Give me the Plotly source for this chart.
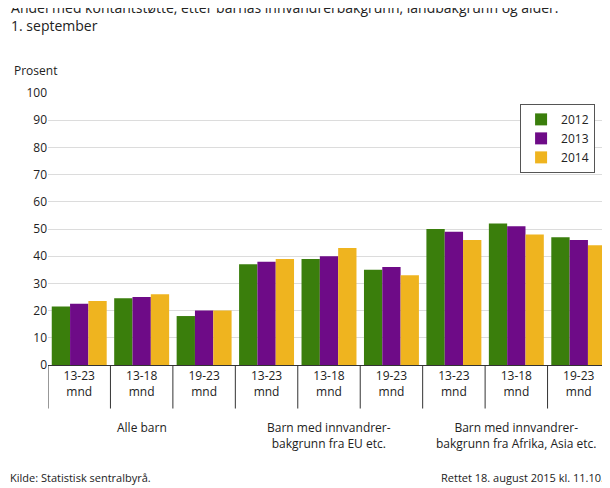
import plotly.graph_objects as go

years = ["2012", "2013", "2014"]
ages = ["13-23<br>mnd", "13-18<br>mnd", "19-23<br>mnd"] * 3
groups = ["Alle barn", "Barn med innvandrer-<br>bakgrunn fra EU etc.",
          "Barn med innvandrer-<br>bakgrunn fra Afrika, Asia etc."]
v2012 = [21.5, 24.5, 18, 37, 39, 35, 50, 52, 47]
v2013 = [22.5, 25, 20, 38, 40, 36, 49, 51, 46]
v2014 = [23.5, 26, 20, 39, 43, 33, 46, 48, 44]
colors = ["#3a7e0c", "#6e0b87", "#efb41f"]

x = list(range(9))
fig = go.Figure()
for name, vals, c in zip(years, [v2012, v2013, v2014], colors):
    fig.add_trace(go.Bar(x=x, y=vals, name=name, marker_color=c, marker_line_width=0))

# separators between categories
for i in range(10):
    fig.add_shape(type="line", xref="x", yref="paper", x0=i - 0.5, x1=i - 0.5,
                  y0=0, y1=-0.16, line=dict(color="#333", width=1))
for gi, g in enumerate(groups):
    fig.add_annotation(x=gi * 3 + 1, y=-0.19, xref="x", yref="paper", text=g,
                       showarrow=False, yanchor="top", font=dict(size=12, color="#222"))

fig.add_annotation(x=0, y=1.0, xref="paper", yref="paper", xshift=-36, yshift=12,
                   text="Prosent", showarrow=False, xanchor="left", yanchor="bottom",
                   font=dict(size=12))
fig.add_annotation(x=0, y=0, xref="paper", yref="paper", xshift=-40, yshift=-122,
                   text="Kilde: Statistisk sentralbyrå.", showarrow=False, xanchor="left",
                   font=dict(size=11))
fig.add_annotation(x=1, y=0, xref="paper", yref="paper", xshift=-4, yshift=-122,
                   text="Rettet 18. august 2015 kl. 11.10.", showarrow=False, xanchor="right",
                   font=dict(size=11))

fig.update_layout(
    width=610, height=488, barmode="group", bargap=0.12, bargroupgap=0,
    plot_bgcolor="white", paper_bgcolor="white",
    font=dict(family="Open Sans, DejaVu Sans", color="#222", size=12),
    title=dict(text="Andel med kontantstøtte, etter barnas innvandrerbakgrunn, landbakgrunn og alder.<br>1. september",
               x=0.005, xanchor="left", yref="container", y=0.99, yanchor="top",
               font=dict(size=14)),
    margin=dict(l=40, r=8, t=85, b=131, autoexpand=False),
    xaxis=dict(tickvals=x, ticktext=ages, range=[-0.5, 8.5], showline=True,
               linecolor="#333", ticks="", showgrid=False, tickfont=dict(size=12)),
    yaxis=dict(range=[0, 100], dtick=10, gridcolor="#dcdcdc", zeroline=False,
               ticks="", showline=False),
    legend=dict(x=0.84, y=0.96, xanchor="left", yanchor="top", bordercolor="#555",
                borderwidth=1, font=dict(size=12)),
)
fig.write_html("out.html")
